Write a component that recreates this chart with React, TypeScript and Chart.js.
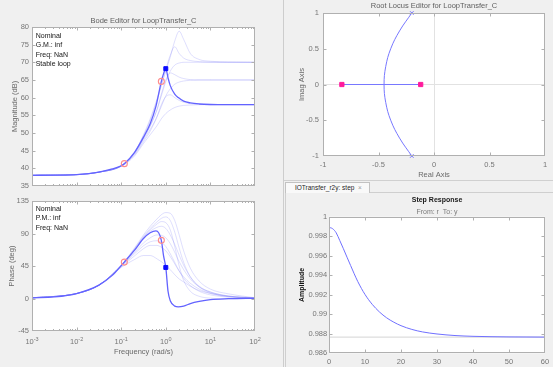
import React, { useEffect, useRef } from 'react';
import { Chart, registerables } from 'chart.js';

Chart.register(...registerables);

const FONT = "'Liberation Sans', Arial, Helvetica, sans-serif";
const TICK_COLOR = '#767676';
const LABEL_COLOR = '#6a6a6a';
const AXIS_COLOR = '#b0b0b0';
const NOMINAL_COLOR = '#6363ff';
const VARIANT_COLOR = 'rgba(110,110,245,0.22)';

// ---------- Bode editor (frequency in rad/s) ----------
const nominalFreq = [0.001, 0.00316, 0.01, 0.0316, 0.0631, 0.1, 0.1175, 0.1995, 0.3162, 0.4467, 0.6026, 0.7943, 0.8913, 1, 1.122, 1.259, 1.585, 1.905, 2.512, 3.548, 5.623, 10, 25.12, 100];
const nominalMag = [38.0, 38.05, 38.2, 38.9, 39.8, 40.7, 41.3, 44.5, 48.8, 52.6, 57.6, 64.6, 66.8, 68.2, 65.6, 63.4, 61.0, 60.0, 59.0, 58.5, 58.2, 58.05, 58.0, 58.0];
const nominalPhase = [0.9, 2.2, 6.9, 18.5, 32, 45.5, 50.4, 67, 83, 91, 93.5, 80.5, 59, 43, 10, -3, -10.5, -11.5, -10.5, -7, -4, -1.5, -0.3, 0.3];

const circleFreq = [0.1175, 0.7943];
const circleMag = [41.3, 64.6];
const circlePhase = [50.4, 80.5];
const squareFreq = [1.0];
const squareMag = [68.2];
const squarePhase = [43];

const variantFreq = [0.001, 0.01, 0.0316, 0.1, 0.1995, 0.3162, 0.4467, 0.631, 0.7943, 1, 1.259, 1.585, 1.995, 2.512, 3.548, 5.623, 10, 25.12, 100];
const variantMagA = [38, 38.2, 38.9, 40.7, 44.5, 49.5, 54, 59.5, 63.5, 67.5, 71.5, 76, 78.8, 76.5, 72.5, 70.8, 70.3, 70.1, 70];
const variantMagB = [38, 38.2, 38.9, 40.7, 44.5, 49.2, 53.5, 59, 63.5, 68, 72, 74.4, 72.5, 71.2, 70.5, 70.2, 70.05, 70, 70];
const variantMagC = [38, 38.2, 38.9, 40.7, 44.3, 48.5, 52, 56.5, 60.5, 64.5, 67.5, 69.2, 69.8, 70, 70, 70, 70, 70, 70];
const variantMagD = [38, 38.2, 38.9, 40.7, 44.3, 48.5, 52, 56.5, 61, 65, 67, 66.5, 65.8, 65.4, 65.1, 65, 65, 65, 65];
const variantMagE = [38, 38.2, 38.9, 40.6, 44, 48, 51, 54.5, 57.5, 60.5, 62.5, 63.8, 64.4, 64.7, 64.9, 65, 65, 65, 65];
const variantMagF = [38, 38.2, 38.9, 40.6, 43.8, 47.5, 50.5, 54.5, 58, 60.3, 60.8, 60, 59.2, 58.7, 58.3, 58.1, 58, 58, 58];
const variantMagG = [38, 38.2, 38.9, 40.5, 43.5, 47, 49.5, 52, 54, 55.5, 56.5, 57.2, 57.6, 57.8, 57.9, 58, 58, 58, 58];

const variantPhase1 = [0.9, 6.9, 18.5, 46, 70, 88, 100, 110, 116, 119, 118, 108, 88, 66, 42, 24, 13, 6.5, 1];
const variantPhase2 = [0.9, 6.9, 18.5, 46, 69, 86, 97, 106, 111, 113, 108, 92, 70, 50, 30, 16, 8, 3, 0.5];
const variantPhase3 = [0.9, 6.9, 18.5, 45.8, 68, 85, 95, 103, 106.5, 105, 95, 72, 45, 25, 10, 3, 0.5, -0.5, 0];
const variantPhase4 = [0.9, 6.9, 18.5, 45.5, 67, 84, 93, 98.5, 100, 97, 88, 75, 60, 46, 30, 17, 9, 3.5, 0.8];
const variantPhase5 = [0.9, 6.9, 18.5, 45, 64, 77, 84, 88, 87.5, 84, 76, 64, 51, 40, 27, 16, 9, 3.5, 0.8];
const variantPhase6 = [0.9, 6.9, 18.3, 44.5, 62, 73, 78.5, 80, 78, 72, 62, 50, 38, 28, 18, 10, 5, 2, 0.5];
const variantPhase7 = [0.9, 6.9, 18.2, 44, 59, 69, 73.5, 73.5, 71, 66, 58, 48, 38, 30, 21, 13, 7, 2.5, 0.6];
const variantPhase8 = [0.9, 6.9, 18, 43, 54, 59.5, 59.5, 55, 51, 46, 40, 33, 27, 23, 17, 11, 7, 3, 0.7];

const magTicks = [35, 40, 45, 50, 55, 60, 65, 70, 75, 80];
const phaseTicks = [-45, 0, 45, 90, 135];
const freqDecades = [0.001, 0.01, 0.1, 1, 10, 100];
const magNotes = ['Nominal', 'G.M.: inf', 'Freq: NaN', 'Stable loop'];
const phaseNotes = ['Nominal', 'P.M.: inf', 'Freq: NaN'];

// ---------- Root locus ----------
const rlArcReal = [-0.2, -0.31, -0.39, -0.435, -0.45, -0.435, -0.39, -0.31, -0.2];
const rlArcImag = [1, 0.75, 0.5, 0.25, 0, -0.25, -0.5, -0.75, -1];
const rlBranchReal = [-0.83, -0.12];
const rlBranchImag = [0, 0];
const rlOpenPoleReal = [-0.2, -0.2];
const rlOpenPoleImag = [1, -1];
const rlClosedPoleReal = [-0.83, -0.12];
const rlClosedPoleImag = [0, 0];
const rlTicks = [-1, -0.5, 0, 0.5, 1];

// ---------- Step response ----------
const stepTime = [0, 0.5, 1, 1.5, 2, 3, 4, 5, 6, 7, 8, 10, 12, 14, 16, 18, 20, 23, 26, 30, 35, 40, 50, 60];
const stepAmp = [0.99888, 0.99886, 0.99877, 0.9986, 0.99835, 0.99755, 0.99672, 0.99585, 0.995, 0.99415, 0.99335, 0.99203, 0.99102, 0.99024, 0.98964, 0.98919, 0.98883, 0.98845, 0.98819, 0.98798, 0.98782, 0.98774, 0.98768, 0.98766];
const stepFinalTime = [0, 60];
const stepFinalAmp = [0.98766, 0.98766];
const stepTimeTicks = [0, 10, 20, 30, 40, 50, 60];
const stepAmpTicks = [0.986, 0.988, 0.99, 0.992, 0.994, 0.996, 0.998, 1];

// ---------- helpers ----------
const pts = (xs: number[], ys: number[]) => xs.map((x, i) => ({ x, y: ys[i] }));
const fmt = (v: any) => String(Number(Number(v).toFixed(3)));
const NO_GRID = { display: false, drawTicks: false };

const lineDs = (data: any[], color: string, width: number, extra: any = {}) => ({
  data, showLine: true, borderColor: color, backgroundColor: color, borderWidth: width,
  pointRadius: 0, pointHoverRadius: 0, fill: false, cubicInterpolationMode: 'monotone', ...extra,
});
const markDs = (data: any[], style: string, radius: number, border: string, bg: string, bw: number) => ({
  data, showLine: false, pointStyle: style, pointRadius: radius, pointHoverRadius: radius,
  pointBorderColor: border, pointBackgroundColor: bg, pointBorderWidth: bw,
  borderColor: border, backgroundColor: bg, clip: false,
});

type TitleCfg = { text: string; y: number; bold?: boolean; color: string; size: number };
type FrameCfg = {
  xTicks: number[]; yTicks: number[]; logMinor?: boolean;
  titles?: TitleCfg[];
  notes?: { lines: string[]; dx: number; dy0: number; step: number };
  supX?: { values: number[]; dyBase: number; dyExp: number };
};

function makeFrame(cfg: FrameCfg) {
  return {
    id: 'frame',
    beforeDraw(chart: any) {
      const { ctx, chartArea: a } = chart;
      ctx.save();
      ctx.fillStyle = '#ffffff';
      ctx.fillRect(a.left, a.top, a.right - a.left, a.bottom - a.top);
      ctx.restore();
    },
    afterDraw(chart: any) {
      const { ctx, chartArea: a, scales } = chart;
      const xs = scales.x, ys = scales.y;
      const L = Math.round(a.left) + 0.5, R = Math.round(a.right) - 0.5;
      const T = Math.round(a.top) + 0.5, B = Math.round(a.bottom) - 0.5;
      const clamp = (p: number, lo: number, hi: number) => Math.min(Math.max(p, lo), hi);
      ctx.save();
      ctx.strokeStyle = AXIS_COLOR;
      ctx.lineWidth = 1;
      ctx.beginPath();
      const vt = (v: number, len: number) => {
        const p = clamp(Math.round(xs.getPixelForValue(v)) + 0.5, L, R);
        ctx.moveTo(p, B); ctx.lineTo(p, B - len); ctx.moveTo(p, T); ctx.lineTo(p, T + len);
      };
      const ht = (v: number, len: number) => {
        const p = clamp(Math.round(ys.getPixelForValue(v)) + 0.5, T, B);
        ctx.moveTo(L, p); ctx.lineTo(L + len, p); ctx.moveTo(R, p); ctx.lineTo(R - len, p);
      };
      cfg.xTicks.forEach((v) => vt(v, 3));
      if (cfg.logMinor) {
        for (let i = 0; i < cfg.xTicks.length - 1; i++) for (let k = 2; k < 10; k++) vt(cfg.xTicks[i] * k, 1.5);
      }
      cfg.yTicks.forEach((v) => ht(v, 3));
      ctx.stroke();
      ctx.strokeRect(L, T, R - L, B - T);

      const cx = (a.left + a.right) / 2;
      ctx.textAlign = 'center';
      ctx.textBaseline = 'middle';
      (cfg.titles || []).forEach((t) => {
        ctx.font = `${t.bold ? 'bold ' : ''}${t.size}px ${FONT}`;
        ctx.fillStyle = t.color;
        ctx.fillText(t.text, cx, t.y);
      });
      if (cfg.notes) {
        const n = cfg.notes;
        ctx.textAlign = 'left';
        ctx.font = `7px ${FONT}`;
        ctx.fillStyle = '#151515';
        n.lines.forEach((s, i) => ctx.fillText(s, a.left + n.dx, a.top + n.dy0 + i * n.step));
      }
      if (cfg.supX) {
        const s = cfg.supX;
        s.values.forEach((v) => {
          const px = xs.getPixelForValue(v);
          const e = String(Math.round(Math.log10(v)));
          ctx.font = `7.5px ${FONT}`;
          const wb = ctx.measureText('10').width;
          ctx.font = `5.5px ${FONT}`;
          const we = ctx.measureText(e).width;
          const x0 = px - (wb + we) / 2;
          ctx.textAlign = 'left';
          ctx.fillStyle = TICK_COLOR;
          ctx.font = `7.5px ${FONT}`;
          ctx.fillText('10', x0, a.bottom + s.dyBase);
          ctx.font = `5.5px ${FONT}`;
          ctx.fillText(e, x0 + wb, a.bottom + s.dyExp);
        });
      }
      ctx.restore();
    },
  };
}

function yAxis(min: number, max: number, ticks: number[], width: number, title: string, titlePad: number, pad: number, bold = false, titleColor = LABEL_COLOR, grid: any = NO_GRID) {
  return {
    type: 'linear', min, max,
    afterBuildTicks: (s: any) => { s.ticks = ticks.map((v) => ({ value: v })); },
    afterFit: (s: any) => { s.width = width; s.paddingTop = 0; s.paddingBottom = 0; },
    ticks: { color: TICK_COLOR, font: { family: FONT, size: 7.5 }, padding: pad, callback: fmt },
    grid,
    border: { display: false },
    title: {
      display: true, text: title, color: titleColor,
      font: { family: FONT, size: bold ? 7 : 7.5, weight: bold ? 'bold' : 'normal' },
      padding: { top: titlePad, bottom: 0 },
    },
  };
}

const baseOptions = (padding: any) => ({
  animation: false,
  responsive: false,
  devicePixelRatio: 1,
  layout: { padding },
  plugins: { legend: { display: false }, tooltip: { enabled: false }, title: { display: false } },
});

export default function App() {
  const magRef = useRef<HTMLCanvasElement>(null);
  const phaseRef = useRef<HTMLCanvasElement>(null);
  const rlRef = useRef<HTMLCanvasElement>(null);
  const stepRef = useRef<HTMLCanvasElement>(null);

  useEffect(() => {
    const charts: Chart[] = [];
    const logX = (height: number, extra: any = {}) => ({
      type: 'logarithmic', min: 0.001, max: 100,
      ticks: { display: false }, grid: NO_GRID, border: { display: false },
      afterFit: (s: any) => { s.height = height; s.paddingLeft = 0; s.paddingRight = 0; },
      ...extra,
    });

    // Magnitude
    charts.push(new Chart(magRef.current as HTMLCanvasElement, {
      type: 'scatter',
      data: {
        datasets: [
          markDs(pts(squareFreq, squareMag), 'rect', 2.8, '#0a0aff', '#0a0aff', 1),
          markDs(pts(circleFreq, circleMag), 'circle', 3, '#ff8c8c', 'rgba(0,0,0,0)', 1.1),
          lineDs(pts(nominalFreq, nominalMag), NOMINAL_COLOR, 1.3),
          ...[variantMagA, variantMagB, variantMagC, variantMagD, variantMagE, variantMagF, variantMagG]
            .map((v) => lineDs(pts(variantFreq, v), VARIANT_COLOR, 1)),
        ] as any,
      },
      options: {
        ...baseOptions({ left: 0, right: 27, top: 27, bottom: 0 }),
        scales: {
          x: logX(3),
          y: yAxis(35, 80, magTicks, 32, 'Magnitude (dB)', 10.5, 3),
        },
      } as any,
      plugins: [makeFrame({
        xTicks: freqDecades, yTicks: magTicks, logMinor: true,
        titles: [{ text: 'Bode Editor for LoopTransfer_C', y: 20.7, color: '#5e5e5e', size: 7.5 }],
        notes: { lines: magNotes, dx: 3.7, dy0: 8.7, step: 9.5 },
      })] as any,
    }));

    // Phase
    charts.push(new Chart(phaseRef.current as HTMLCanvasElement, {
      type: 'scatter',
      data: {
        datasets: [
          markDs(pts(squareFreq, squarePhase), 'rect', 2.8, '#0a0aff', '#0a0aff', 1),
          markDs(pts(circleFreq, circlePhase), 'circle', 3, '#ff8c8c', 'rgba(0,0,0,0)', 1.1),
          lineDs(pts(nominalFreq, nominalPhase), NOMINAL_COLOR, 1.3),
          ...[variantPhase1, variantPhase2, variantPhase3, variantPhase4, variantPhase5, variantPhase6, variantPhase7, variantPhase8]
            .map((v) => lineDs(pts(variantFreq, v), VARIANT_COLOR, 1)),
        ] as any,
      },
      options: {
        ...baseOptions({ left: 0, right: 27, top: 11, bottom: 0 }),
        scales: {
          x: logX(36, {
            title: {
              display: true, text: 'Frequency (rad/s)', color: LABEL_COLOR,
              font: { family: FONT, size: 7.5 }, padding: { top: 0, bottom: 10.5 },
            },
          }),
          y: yAxis(-45, 135, phaseTicks, 32, 'Phase (deg)', 7.2, 3),
        },
      } as any,
      plugins: [makeFrame({
        xTicks: freqDecades, yTicks: phaseTicks, logMinor: true,
        notes: { lines: phaseNotes, dx: 3.7, dy0: 8, step: 9.5 },
        supX: { values: freqDecades, dyBase: 11.3, dyExp: 8.8 },
      })] as any,
    }));

    // Root locus
    const zeroGrid = {
      display: true, drawTicks: false, lineWidth: 1,
      color: (c: any) => (c.tick && c.tick.value === 0 ? '#e2e2e2' : 'rgba(0,0,0,0)'),
    };
    charts.push(new Chart(rlRef.current as HTMLCanvasElement, {
      type: 'scatter',
      data: {
        datasets: [
          markDs(pts(rlClosedPoleReal, rlClosedPoleImag), 'rect', 3, '#ff1a9c', '#ff1a9c', 1),
          markDs(pts(rlOpenPoleReal, rlOpenPoleImag), 'crossRot', 2.5, '#7070ff', '#7070ff', 1),
          lineDs(pts(rlBranchReal, rlBranchImag), '#7878ff', 1, { cubicInterpolationMode: 'default', tension: 0 }),
          lineDs(pts(rlArcReal, rlArcImag), '#7878ff', 1, { cubicInterpolationMode: 'default', tension: 0.4 }),
        ] as any,
      },
      options: {
        ...baseOptions({ left: 0, right: 8, top: 13, bottom: 0 }),
        scales: {
          x: {
            type: 'linear', min: -1, max: 1,
            afterBuildTicks: (s: any) => { s.ticks = rlTicks.map((v) => ({ value: v })); },
            afterFit: (s: any) => { s.height = 24; s.paddingLeft = 0; s.paddingRight = 0; },
            ticks: { color: TICK_COLOR, font: { family: FONT, size: 7.5 }, padding: 4, callback: fmt, maxRotation: 0, autoSkip: false },
            grid: zeroGrid,
            border: { display: false },
            title: {
              display: true, text: 'Real Axis', color: LABEL_COLOR,
              font: { family: FONT, size: 7.5 }, padding: { top: 0, bottom: 0.5 },
            },
          },
          y: yAxis(-1, 1, rlTicks, 39, 'Imag Axis', 13.5, 4, false, LABEL_COLOR, zeroGrid),
        },
      } as any,
      plugins: [makeFrame({
        xTicks: rlTicks, yTicks: rlTicks,
        titles: [{ text: 'Root Locus Editor for LoopTransfer_C', y: 6, color: '#5e5e5e', size: 7.5 }],
      })] as any,
    }));

    // Step response
    charts.push(new Chart(stepRef.current as HTMLCanvasElement, {
      type: 'scatter',
      data: {
        datasets: [
          lineDs(pts(stepTime, stepAmp), '#7070ff', 1),
          lineDs(pts(stepFinalTime, stepFinalAmp), '#d4d4d4', 1, { cubicInterpolationMode: 'default', tension: 0 }),
        ] as any,
      },
      options: {
        ...baseOptions({ left: 0, right: 8, top: 22.7, bottom: 0 }),
        scales: {
          x: {
            type: 'linear', min: 0, max: 60,
            afterBuildTicks: (s: any) => { s.ticks = stepTimeTicks.map((v) => ({ value: v })); },
            afterFit: (s: any) => { s.height = 13.7; s.paddingLeft = 0; s.paddingRight = 0; },
            ticks: { color: TICK_COLOR, font: { family: FONT, size: 7.5 }, padding: 4.2, callback: fmt, maxRotation: 0, autoSkip: false },
            grid: NO_GRID,
            border: { display: false },
          },
          y: yAxis(0.986, 1, stepAmpTicks, 44, 'Amplitude', 12.5, 1.8, true, '#111111'),
        },
      } as any,
      plugins: [makeFrame({
        xTicks: stepTimeTicks, yTicks: stepAmpTicks,
        titles: [
          { text: 'Step Response', y: 6, bold: true, color: '#1a1a1a', size: 7 },
          { text: 'From: r  To: y', y: 18, color: '#7a7a7a', size: 7 },
        ],
      })] as any,
    }));

    return () => { charts.forEach((c) => c.destroy()); };
  }, []);

  const abs = (l: number, t: number): React.CSSProperties => ({ position: 'absolute', left: l, top: t, display: 'block' });

  return (
    <div style={{ position: 'fixed', left: 0, top: 0, width: 553, height: 367, background: '#f0f0f0', overflow: 'hidden', fontFamily: FONT }}>
      <canvas ref={magRef} width={282} height={190} style={abs(0, 0)} />
      <canvas ref={phaseRef} width={282} height={177} style={abs(0, 190)} />
      <div style={{ position: 'absolute', left: 283, top: 0, width: 1, height: 367, background: '#cdcdcd' }} />
      <canvas ref={rlRef} width={269} height={180} style={abs(284, 0)} />
      <div style={{ position: 'absolute', left: 284, top: 180, width: 269, height: 1, background: '#d0d0d0' }} />
      <div style={{ position: 'absolute', left: 285, top: 192, width: 268, height: 175, borderTop: '1px solid #cfcfcf', borderLeft: '1px solid #cfcfcf', boxSizing: 'border-box' }} />
      <div style={{ position: 'absolute', left: 285, top: 182, width: 85, height: 11, boxSizing: 'border-box', border: '1px solid #c2c2c2', borderBottom: 'none', background: '#f9f9f9', fontSize: 6.5, lineHeight: '10px', color: '#1e1e1e', whiteSpace: 'nowrap' }}>
        <span style={{ position: 'absolute', left: 9, top: 0 }}>IOTransfer_r2y: step</span>
        <span style={{ position: 'absolute', left: 72, top: 0, color: '#9a9a9a' }}>×</span>
      </div>
      <canvas ref={stepRef} width={268} height={173} style={abs(285, 194)} />
    </div>
  );
}
